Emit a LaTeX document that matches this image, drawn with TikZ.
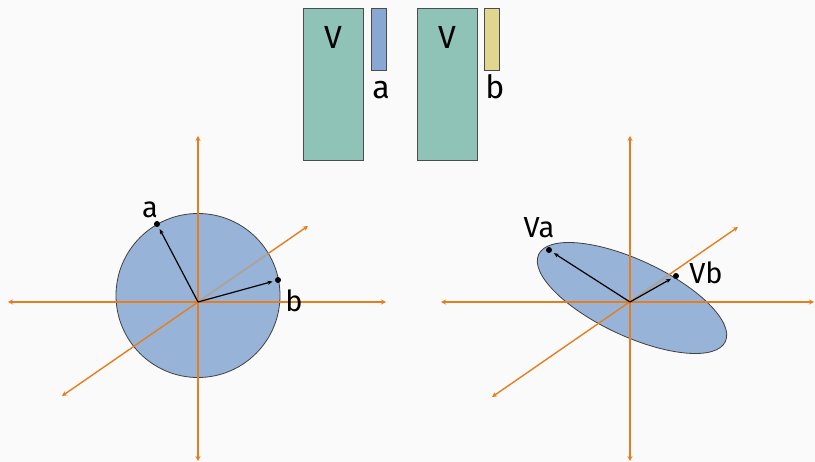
\documentclass[tikz,border=0pt]{standalone}
\usepackage{fontspec}
\setmainfont{Fira Sans}
\usetikzlibrary{arrows.meta}
\definecolor{bgGray}{HTML}{FAFAFA}
\definecolor{matGreen}{HTML}{8FC3B7}
\definecolor{vecBlue}{HTML}{88A8D3}
\definecolor{vecYellow}{HTML}{E0D690}
\definecolor{blobBlue}{HTML}{97B3D8}
\definecolor{axOrange}{HTML}{E67E1F}

\begin{document}
\begin{tikzpicture}[x=1pt,y=-1pt,
  mat/.style={draw=black!70,fill=matGreen,line width=0.8pt,minimum width=60pt,minimum height=152pt,inner sep=0pt},
  col/.style={draw=black!70,line width=0.8pt,minimum width=15pt,minimum height=62pt,inner sep=0pt},
  big/.style={anchor=base,font=\fontsize{32}{32}\selectfont,inner sep=0pt},
  lbl/.style={anchor=base,font=\fontsize{29}{29}\selectfont,inner sep=0pt},
  ax/.style={axOrange,line width=1.4pt,{Stealth[length=5pt,width=5pt]}-{Stealth[length=5pt,width=5pt]}},
  hid/.style={black!35,line width=1.8pt},
  vec/.style={black,line width=1.2pt,-{Stealth[length=5pt,width=4pt]},shorten >=2.5pt},
  pt/.style={circle,fill=black,inner sep=0pt,minimum size=6pt},
  blob/.style={draw=black!75,fill=blobBlue,line width=0.8pt}]
  \fill[bgGray] (0,0) rectangle (815,462);
  \useasboundingbox (0,0) rectangle (815,462);
  % top: V a and V b
  \node[mat] (V1) at (333,84) {};   \node[col,fill=vecBlue] (ca) at (378.5,39) {};
  \node[mat] (V2) at (447,84) {};   \node[col,fill=vecYellow] (cb) at (491.5,39) {};
  \node[big] at (333,49) {V};  \node[big] at (381,99) {a};
  \node[big] at (447,49) {V};  \node[big] at (495,99) {b};
  % left: circle
  \coordinate (o1) at (198,302);
  \path[blob] (198,295.5) circle[radius=82];
  \draw[ax] (8,302) -- (386,302);
  \draw[ax] (198,136) -- (198,461);
  \draw[ax] (62,396) -- (308,226);
  \begin{scope} \clip (198,295.5) circle[radius=81.4]; \draw[hid] (o1) -- (308,226); \end{scope}
  \node[pt] (a) at (157,224) {};   \draw[vec] (o1) -- (a);   \node[lbl] at (150,218) {a};
  \node[pt] (b) at (278,280) {};   \draw[vec] (o1) -- (b);   \node[lbl] at (294,312) {b};
  % right: ellipse
  \coordinate (o2) at (630,302);
  \path[blob] (632,298) ellipse[x radius=103,y radius=38,rotate=-25];
  \draw[ax] (441,302) -- (814,302);
  \draw[ax] (630,136) -- (630,461);
  \draw[ax] (492,397) -- (738,227);
  \begin{scope} \clip (632,298) ellipse[x radius=102.4,y radius=37.4,rotate=-25]; \draw[hid] (o2) -- (738,227); \end{scope}
  \node[pt] (Va) at (549,250) {};  \draw[vec] (o2) -- (Va);  \node[lbl] at (539,238) {Va};
  \node[pt] (Vb) at (676,276) {};  \draw[vec] (o2) -- (Vb);  \node[lbl] at (706,284) {Vb};
\end{tikzpicture}
\end{document}
